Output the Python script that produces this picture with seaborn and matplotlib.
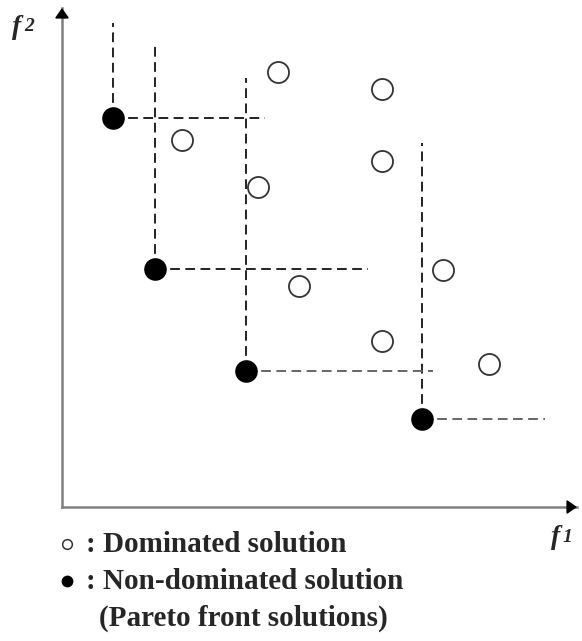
import matplotlib
matplotlib.use("Agg")
import matplotlib.pyplot as plt
import seaborn as sns
import pandas as pd

# ---- data (f1, f2 in arbitrary objective units) ----
nd_f1 = [5.1, 9.3, 18.4, 36.0]
nd_f2 = [38.9, 23.8, 13.6, 8.8]
dom_f1 = [21.6, 32.0, 12.0, 32.0, 19.6, 38.1, 23.7, 32.0, 42.7]
dom_f2 = [43.5, 41.8, 36.7, 34.6, 32.0, 23.7, 22.1, 16.6, 14.3]
# extent of the dominance guide lines from each non-dominated point
guide_top = [48.4, 46.5, 42.9, 36.4]
guide_right = [20.3, 30.6, 37.1, 48.3]
guide_hcolor = ["#222222", "#222222", "#666666", "#666666"]

legend_lines = [": Dominated solution", ": Non-dominated solution", "(Pareto front solutions)"]

sns.set_style("white")
plt.rcParams["font.family"] = ["Liberation Serif", "DejaVu Serif"]

W, H = 582, 641
fig = plt.figure(figsize=(W / 100, H / 100), dpi=100)
ax = fig.add_axes([62 / W, (H - 507) / H, (577 - 62) / W, (507 - 8) / H])
ax.set_xlim(0, 51.5)
ax.set_ylim(0, 49.9)

df_nd = pd.DataFrame({"f1": nd_f1, "f2": nd_f2})
df_dom = pd.DataFrame({"f1": dom_f1, "f2": dom_f2})

dash = (0, (5.0, 2.8))
ax.vlines(nd_f1, nd_f2, guide_top, colors="#222222", linestyles=[dash], linewidth=1.4, zorder=1)
for x, y, xr, c in zip(nd_f1, nd_f2, guide_right, guide_hcolor):
    ax.hlines(y, x, xr, colors=c, linestyles=[dash], linewidth=1.4, zorder=1)

sns.scatterplot(data=df_dom, x="f1", y="f2", ax=ax, s=230, color="white",
                edgecolor="#333333", linewidth=1.3, zorder=3)
sns.scatterplot(data=df_nd, x="f1", y="f2", ax=ax, s=265, color="black",
                edgecolor="black", linewidth=0, zorder=3)

ax.set_xlabel("")
ax.set_ylabel("")
ax.set_xticks([])
ax.set_yticks([])
for s in ["top", "right"]:
    ax.spines[s].set_visible(False)
for s in ["left", "bottom"]:
    ax.spines[s].set_color("#808080")
    ax.spines[s].set_linewidth(1.8)

arrow = dict(arrowstyle="-|>,head_length=0.6,head_width=0.42", color="black",
             lw=1.2, shrinkA=0, shrinkB=0)
ax.annotate("", xy=(1.0, 0), xytext=(0.985, 0), xycoords="axes fraction",
            textcoords="axes fraction", arrowprops=arrow, annotation_clip=False)
ax.annotate("", xy=(0, 1.0), xytext=(0, 0.985), xycoords="axes fraction",
            textcoords="axes fraction", arrowprops=arrow, annotation_clip=False)

def fx(px):
    return px / W

def fy(py):
    return 1 - py / H

# axis labels
fig.text(fx(12), fy(34), "f", fontsize=20, fontweight="bold", fontstyle="italic", va="baseline")
fig.text(fx(24), fy(31), "2", fontsize=14, fontweight="bold", fontstyle="italic", va="baseline")
fig.text(fx(551), fy(544), "f", fontsize=20, fontweight="bold", fontstyle="italic", va="baseline")
fig.text(fx(563), fy(542), "1", fontsize=14, fontweight="bold", fontstyle="italic", va="baseline")

# legend-like annotation
fig.add_artist(plt.Line2D([fx(67)], [fy(544)], marker="o", markersize=7, markerfacecolor="white",
                          markeredgecolor="#333333", markeredgewidth=1.1, linestyle="none"))
fig.add_artist(plt.Line2D([fx(67)], [fy(581)], marker="o", markersize=8.5, markerfacecolor="black",
                          markeredgecolor="black", markeredgewidth=0, linestyle="none"))
fig.text(fx(86), fy(552), legend_lines[0], fontsize=21, fontweight="bold", va="baseline")
fig.text(fx(86), fy(589), legend_lines[1], fontsize=21, fontweight="bold", va="baseline")
fig.text(fx(99), fy(626), legend_lines[2], fontsize=21, fontweight="bold", va="baseline")

fig.savefig("out.png", dpi=100, facecolor="white")
